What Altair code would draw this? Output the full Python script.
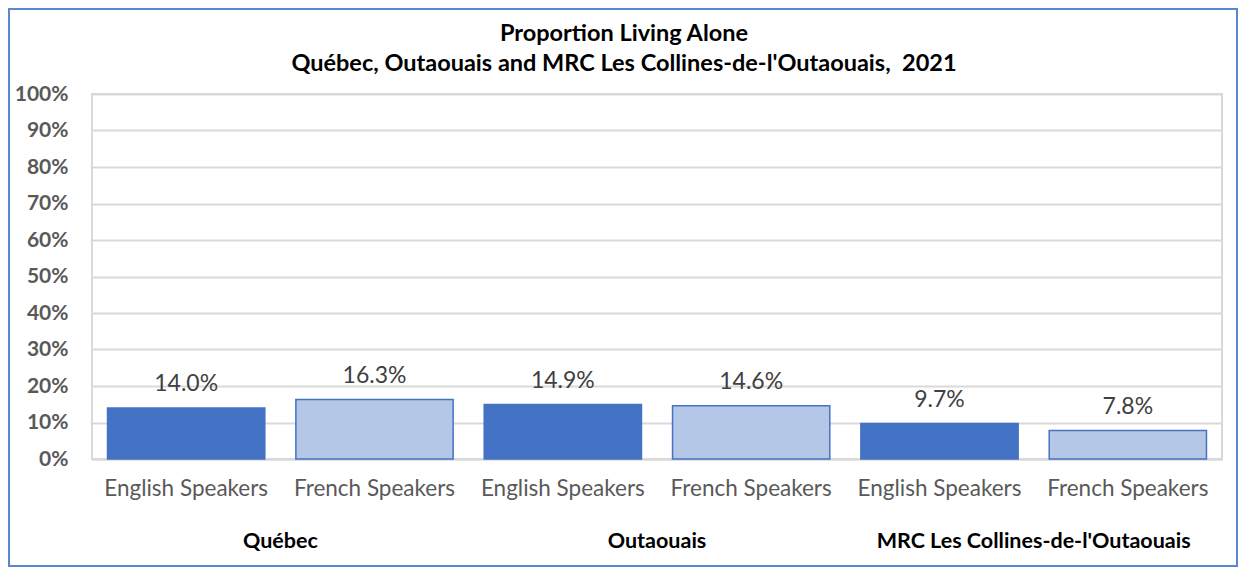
import altair as alt
import pandas as pd

regions = ["Québec", "Québec", "Outaouais", "Outaouais",
           "MRC Les Collines-de-l'Outaouais", "MRC Les Collines-de-l'Outaouais"]
speakers = ["English Speakers", "French Speakers"] * 3
values = [0.140, 0.163, 0.149, 0.146, 0.097, 0.078]
group_order = ["Québec", "Outaouais", "MRC Les Collines-de-l'Outaouais"]

keys = [f"{r}|{s}" for r, s in zip(regions, speakers)]
df = pd.DataFrame({"key": keys, "region": regions, "speaker": speakers, "value": values})
groups = pd.DataFrame({"region": group_order})

FONT = "Lato"
W, H = 1130, 365

xscale = alt.Scale(paddingInner=0.165, paddingOuter=0.0825)
xenc = alt.X("key:N", sort=keys, title=None, scale=xscale,
             axis=alt.Axis(labelExpr="split(datum.label, '|')[1]", labelAngle=0,
                           labelFontSize=22.5, labelColor="#595959", labelFont=FONT,
                           labelPadding=18, ticks=False, domainColor="#d9d9d9",
                           domainWidth=2, grid=False))
yaxis = alt.Axis(format=".0%", values=[i / 10 for i in range(11)],
                 labelFontSize=21, labelFontWeight="bold", labelColor="#595959",
                 labelFont=FONT, labelPadding=24, ticks=False, domain=False,
                 labelOverlap=False, gridColor="#d9d9d9", gridWidth=2)
yenc = alt.Y("value:Q", title=None, scale=alt.Scale(domain=[0, 1]), axis=yaxis)

bars = alt.Chart(df).mark_bar(strokeWidth=1.5, stroke="#4472C4").encode(
    x=xenc, y=yenc,
    color=alt.Color("speaker:N", legend=None,
                    scale=alt.Scale(domain=["English Speakers", "French Speakers"],
                                    range=["#4472C4", "#B4C7E7"])),
)

labels = alt.Chart(df).mark_text(baseline="bottom", dy=-12, fontSize=23,
                                 color="#404040", font=FONT).encode(
    x=alt.X("key:N", sort=keys, scale=xscale, axis=None),
    y=yenc,
    text=alt.Text("value:Q", format=".1%"),
)

group_text = alt.Chart(groups).mark_text(fontSize=21.5, fontWeight="bold", color="#000000",
                                         font=FONT, baseline="middle").encode(
    x=alt.X("region:N", sort=group_order, axis=None,
            scale=alt.Scale(paddingInner=0, paddingOuter=0)),
    y=alt.value(H + 83),
    text="region:N",
)

border = alt.Chart(pd.DataFrame({"a": [0]})).mark_rect(
    fill=None, stroke="#5B86D0", strokeWidth=2).encode(
    x=alt.value(-83), x2=alt.value(W + 15), y=alt.value(-85), y2=alt.value(H + 107))

chart = alt.layer(border, bars, labels, group_text).resolve_scale(x="independent").properties(
    width=W, height=H,
    autosize=alt.AutoSizeParams(type="none"),
    padding={"left": 84, "top": 86, "right": 17, "bottom": 110},
    title=alt.Title(["Proportion Living Alone",
                     "Québec, Outaouais and MRC Les Collines-de-l'Outaouais, \u00a02021"],
                    fontSize=23.5, fontWeight="bold", color="#000000", font=FONT,
                    lineHeight=30, anchor="middle", dx=-33, offset=-67),
).configure_view(stroke="#d9d9d9", strokeWidth=2)

chart.save("out.html", embed_options={"renderer": "svg", "actions": False})
